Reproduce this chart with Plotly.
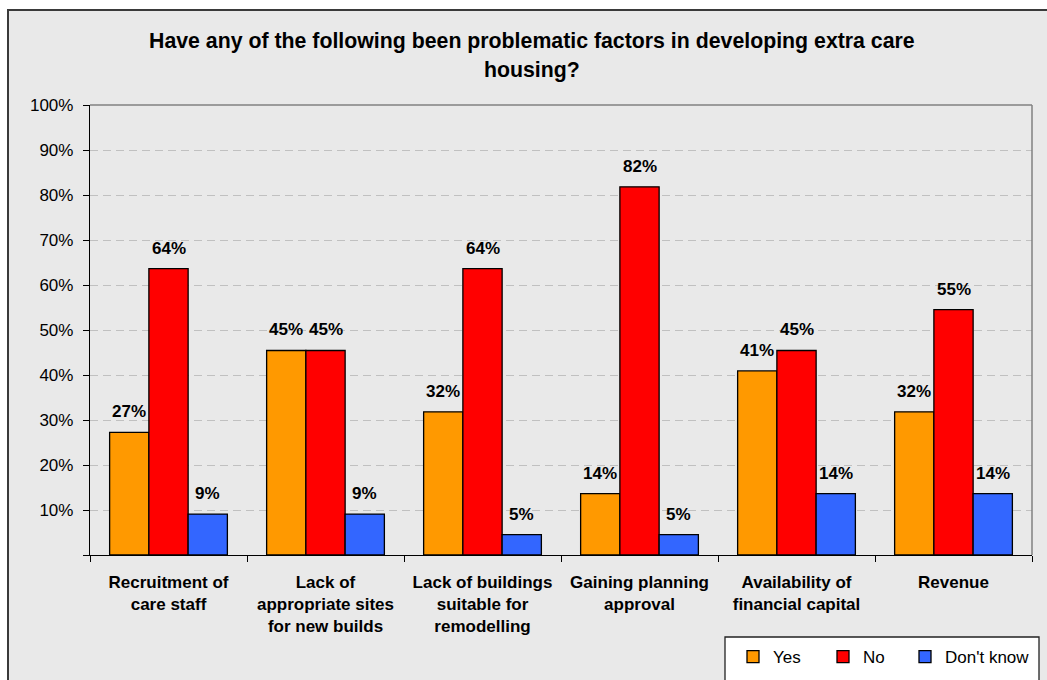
import plotly.graph_objects as go

# Survey responses (percent of respondents)
categories = [
    "Recruitment of<br>care staff",
    "Lack of<br>appropriate sites<br>for new builds",
    "Lack of buildings<br>suitable for<br>remodelling",
    "Gaining planning<br>approval",
    "Availability of<br>financial capital",
    "Revenue",
]
yes = [27.27, 45.45, 31.82, 13.64, 40.91, 31.82]
no = [63.64, 45.45, 63.64, 81.82, 45.45, 54.55]
dont_know = [9.09, 9.09, 4.55, 4.55, 13.64, 13.64]

series_names = ["Yes", "No", "Don't know"]
series_colors = ["#FF9900", "#FF0000", "#3366FF"]
legend_widths = [45, 37, None]  # spacing of the legend entries (px)

y_ticks = [0, 10, 20, 30, 40, 50, 60, 70, 80, 90, 100]
y_tick_labels = ["", "10%", "20%", "30%", "40%", "50%", "60%", "70%", "80%", "90%", "100%"]

title_lines = [
    "Have any of the following been problematic factors in developing extra care",
    "housing?",
]

FONT = "Arial, 'Liberation Sans', sans-serif"

# Figure geometry in pixels
FIG_W, FIG_H = 1047, 680
M_L, M_R, M_T, M_B = 90, 15, 105, 125
PLOT_W = FIG_W - M_L - M_R
PLOT_H = FIG_H - M_T - M_B


def px(x):
    """Pixel column -> paper x."""
    return (x - M_L) / PLOT_W


def py(y):
    """Pixel row -> paper y."""
    return (FIG_H - M_B - y) / PLOT_H


fig = go.Figure()

series_values = [yes, no, dont_know]
for name, vals, color, lw in zip(series_names, series_values, series_colors, legend_widths):
    fig.add_bar(
        x=categories,
        y=vals,
        name=name,
        legendwidth=lw,
        marker=dict(color=color, line=dict(color="black", width=1.3)),
    )

# Value labels above each bar
BARGAP = 0.25
bar_w = (1 - BARGAP) / len(series_values)
for k, vals in enumerate(series_values):
    offset = (k - (len(series_values) - 1) / 2) * bar_w
    for i, v in enumerate(vals):
        fig.add_annotation(
            x=i + offset, y=v, xref="x", yref="y",
            text=f"{v:.0f}%", showarrow=False,
            yanchor="bottom", yshift=9,
            font=dict(family=FONT, size=17, color="black", weight="bold"),
        )

# Two-line title
for line, ypix in zip(title_lines, [41, 70]):
    fig.add_annotation(
        x=px(532), y=py(ypix), xref="paper", yref="paper",
        text=line, showarrow=False, xanchor="center", yanchor="middle",
        font=dict(family=FONT, size=21.3, color="black", weight="bold"),
    )

shapes = [
    # chart area background and frame
    dict(type="rect", xref="paper", yref="paper",
         x0=px(8), x1=px(1100), y0=py(730), y1=py(10),
         fillcolor="#e9e9e9", line=dict(color="#3a3a3a", width=2), layer="below"),
    # legend box
    dict(type="rect", xref="paper", yref="paper",
         x0=px(725), x1=px(1039), y0=py(730), y1=py(637),
         fillcolor="white", line=dict(color="#222222", width=1.3), layer="below"),
    # plot area border (top and right)
    dict(type="line", xref="paper", yref="paper", x0=0, x1=1, y0=1, y1=1,
         line=dict(color="#808080", width=1.5), layer="above"),
    dict(type="line", xref="paper", yref="paper", x0=1, x1=1, y0=0, y1=1,
         line=dict(color="#808080", width=1.5), layer="above"),
]

fig.update_layout(
    width=FIG_W, height=FIG_H,
    margin=dict(l=M_L, r=M_R, t=M_T, b=M_B, pad=0, autoexpand=False),
    paper_bgcolor="white",
    plot_bgcolor="white",
    barmode="group",
    bargap=BARGAP,
    bargroupgap=0,
    font=dict(family=FONT, color="black"),
    shapes=shapes,
    showlegend=True,
    legend=dict(
        orientation="h",
        x=px(733), xanchor="left",
        y=py(639), yanchor="top",
        bgcolor="rgba(0,0,0,0)", borderwidth=0,
        font=dict(family=FONT, size=17, color="black"),
    ),
)

fig.update_xaxes(
    type="category",
    tickson="boundaries",
    ticks="outside", ticklen=6, tickcolor="black", tickwidth=1.3,
    showline=True, linecolor="black", linewidth=1.3,
    showgrid=False,
    tickfont=dict(family=FONT, size=17, color="black", weight="bold"),
    ticklabelstandoff=11,
)

fig.update_yaxes(
    range=[0, 100],
    tickvals=y_ticks, ticktext=y_tick_labels,
    ticks="outside", ticklen=6, tickcolor="black", tickwidth=1.3,
    showline=True, linecolor="black", linewidth=1.3,
    showgrid=True, gridcolor="#c0c0c0", gridwidth=1, griddash="8px,5px",
    zeroline=False,
    tickfont=dict(family=FONT, size=17, color="black"),
    ticklabelstandoff=6,
)

fig.write_html("out.html")
